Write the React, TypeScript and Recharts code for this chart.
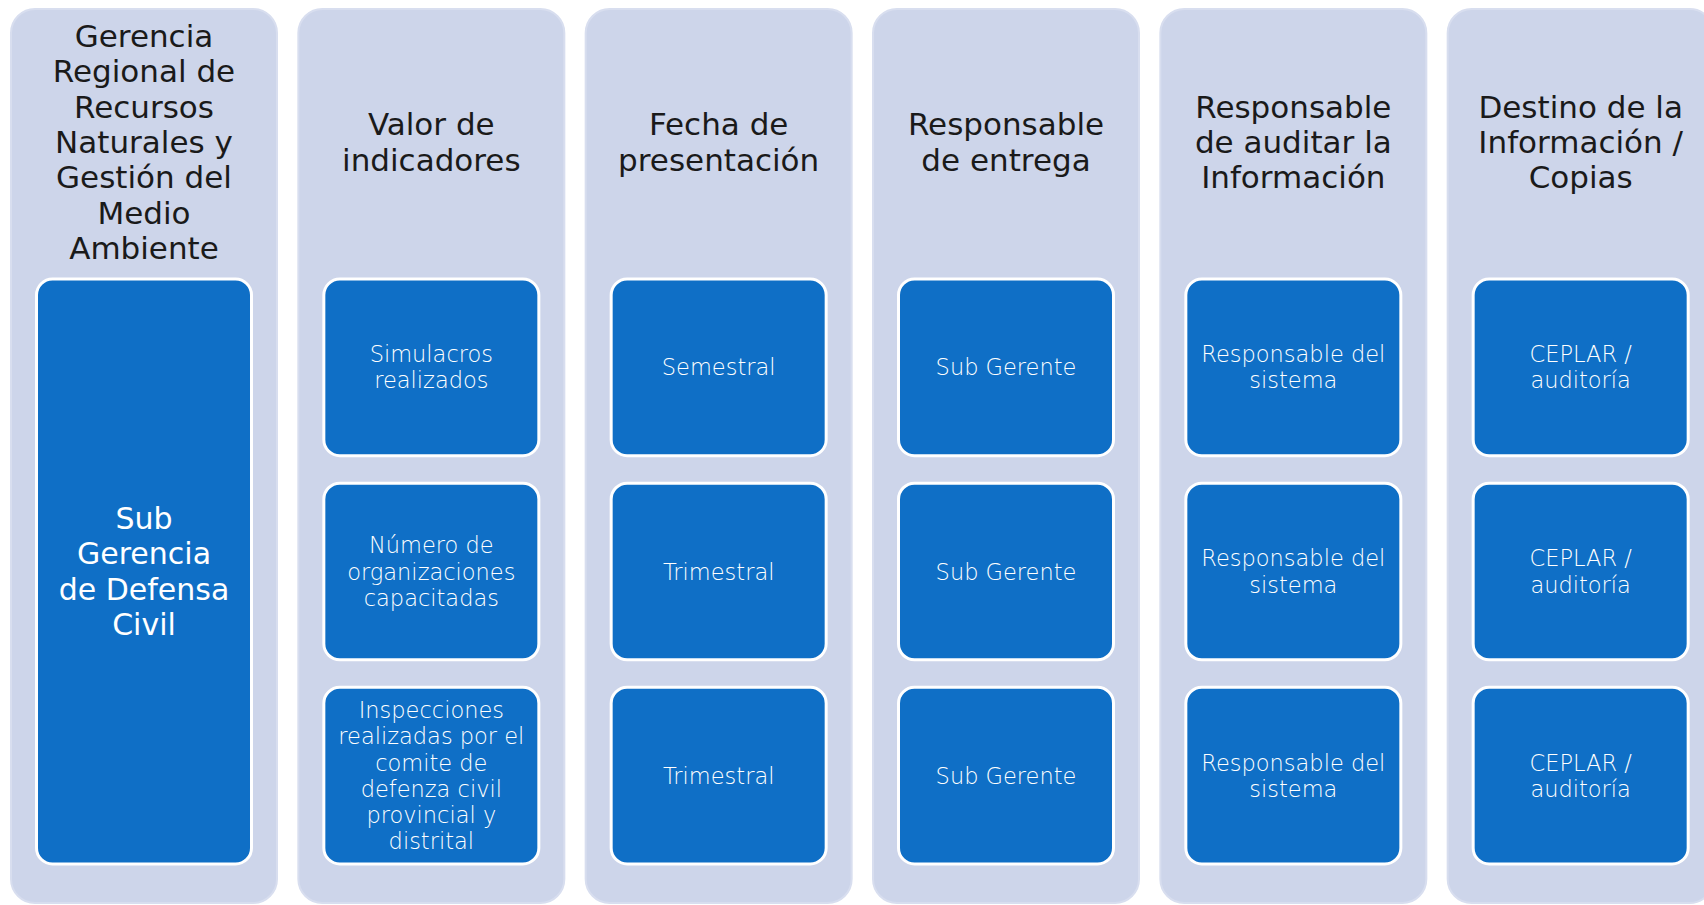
import { BarChart, Bar, XAxis, YAxis } from "recharts";

// column keys and texts
const columnKeys = ["gerencia", "valor", "fecha", "entrega", "auditar", "destino"];

const headerLines = [
  ["Gerencia", "Regional de", "Recursos", "Naturales y", "Gestión del", "Medio", "Ambiente"],
  ["Valor de", "indicadores"],
  ["Fecha de", "presentación"],
  ["Responsable", "de entrega"],
  ["Responsable", "de auditar la", "Información"],
  ["Destino de la", "Información /", "Copias"],
];

const itemLines = [
  [["Sub", "Gerencia", "de Defensa", "Civil"]],
  [
    ["Simulacros", "realizados"],
    ["Número de", "organizaciones", "capacitadas"],
    ["Inspecciones", "realizadas por el", "comite de", "defenza civil", "provincial y", "distrital"],
  ],
  [["Semestral"], ["Trimestral"], ["Trimestral"]],
  [["Sub Gerente"], ["Sub Gerente"], ["Sub Gerente"]],
  [
    ["Responsable del", "sistema"],
    ["Responsable del", "sistema"],
    ["Responsable del", "sistema"],
  ],
  [
    ["CEPLAR /", "auditoría"],
    ["CEPLAR /", "auditoría"],
    ["CEPLAR /", "auditoría"],
  ],
];

const data = columnKeys.map((key, i) => ({
  key,
  panel: 100,
  header: headerLines[i],
  items: itemLines[i],
}));

const FONT = "'Century Gothic', 'DejaVu Sans', sans-serif";
const PANEL_FILL = "#CDD5EA";
const BOX_FILL = "#0F6FC6";

const Lines = ({ cx, cy, lines, size, lh, fill, weight }) => (
  <>
    {lines.map((t, j) => (
      <text
        key={j}
        x={cx}
        y={cy + (j - (lines.length - 1) / 2) * lh}
        textAnchor="middle"
        dominantBaseline="central"
        fontFamily={FONT}
        fontSize={size}
        fontWeight={weight}
        fill={fill}
      >
        {t}
      </text>
    ))}
  </>
);

// panel with its header and the inner boxes
const PanelShape = (props) => {
  const { x, y, width, height, payload } = props;
  const cx = x + width / 2;
  const items = payload.items;
  const boxW = 215;
  const top = y + 270;
  const span = 585;
  const gap = 27.5;
  const boxH = (span - (items.length - 1) * gap) / items.length;
  const single = items.length === 1;
  return (
    <g>
      <rect
        x={x}
        y={y}
        width={width}
        height={height}
        rx={24}
        fill={PANEL_FILL}
        stroke="#D8DEEF"
        strokeWidth={2}
      />
      <Lines cx={cx} cy={y + 133} lines={payload.header} size={31} lh={35.3} fill="#1A1A1A" weight={400} />
      {items.map((lines, k) => {
        const by = top + k * (boxH + gap);
        return (
          <g key={k}>
            <rect
              x={cx - boxW / 2}
              y={by}
              width={boxW}
              height={boxH}
              rx={16}
              fill={BOX_FILL}
              stroke="#FFFFFF"
              strokeWidth={3}
            />
            <Lines
              cx={cx}
              cy={by + boxH / 2}
              lines={lines}
              size={single ? 30 : 22.5}
              lh={single ? 35.5 : 26.2}
              fill="#FFFFFF"
              weight={single ? 400 : 300}
            />
          </g>
        );
      })}
    </g>
  );
};

export default function App() {
  return (
    <div
      style={{
        position: "fixed",
        left: 0,
        top: 0,
        width: 1704,
        height: 905,
        overflow: "hidden",
        background: "#FFFFFF",
      }}
    >
      <BarChart
        width={1724}
        height={905}
        data={data}
        margin={{ top: 9, right: 0, bottom: 2, left: 0 }}
      >
        <XAxis dataKey="key" hide />
        <YAxis hide domain={[0, 100]} />
        <Bar
          dataKey="panel"
          barSize={266}
          shape={PanelShape}
          isAnimationActive={false}
        />
      </BarChart>
    </div>
  );
}
